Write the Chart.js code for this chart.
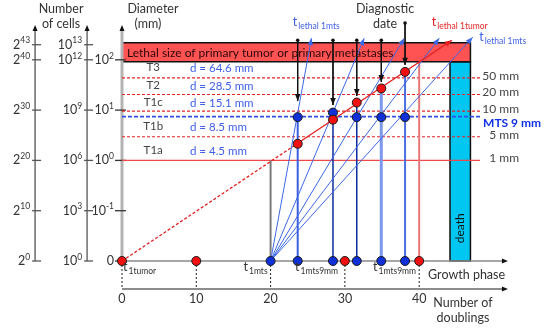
<!DOCTYPE html>
<html>
<head>
<meta charset="utf-8">
<script src="https://cdn.jsdelivr.net/npm/chart.js@4.4.1/dist/chart.umd.min.js"></script>
<style>
  html, body { margin: 0; padding: 0; background: #fff; }
</style>
</head>
<body>
<canvas id="myChart" width="548" height="328"></canvas>
<script>
// x = number of doublings, y = log2 of the cell count (1 decade of diameter = 10 doublings)
const doublingTicks = [0, 10, 20, 30, 40];
const cellTicks = [0, 10, 20, 30, 40, 43];
const pow2Exp = ['0', '10', '20', '30', '40', '43'];
const pow10Exp = ['0', '3', '6', '9', '12', '13'];
const diamTicks = [0, 10, 20, 30, 40];
const diamBase = ['0', '10', '10', '10', '10'];
const diamExp = ['', '-1', '0', '1', '2'];

const stages = ['T3', 'T2', 'T1c', 'T1b', 'T1a'];
const stageDiam = ['d = 64.6 mm', 'd = 28.5 mm', 'd = 15.1 mm', 'd = 8.5 mm', 'd = 4.5 mm'];
const stageRows = [38.6, 35.0, 31.6, 26.8, 22.1];

const sizeLabels = ['50 mm', '20 mm', '10 mm', '5 mm', '1 mm'];
const sizeLevels = [36.4, 33.1, 29.8, 24.7, 20];
const mtsLevel = 28.7;
const lethalLevels = [39.6, 43.4];
const deathRange = [44.15, 46.9];
const levelEnd = 48.2;

const tumorX = [0, 23.65, 44.4];
const tumorY = [0, 23.4, 43.9];

const diagX = [23.65, 28.4, 31.6, 34.9, 38.1];
const tumorDiagY = [23.3, 28.1, 31.5, 34.3, 37.6];
const mtsDiagY = [28.6, 29.5, 28.6, 28.6, 28.6];
const diagTopY = [43.9, 43.9, 43.9, 43.9, 47.3];
const diagTipY = [31.8, 31.0, 32.8, 35.6, 39.0];

const mtsStart = 20;
const mtsEndX = [25.5, 32.6, 38.0, 42.7, 47.2];
const mtsEndY = [44.3, 44.3, 44.3, 44.3, 44.5];

const growthRedX = [0, 10, 30, 40];
const growthBlueX = [20, 23.65, 28.4, 31.6, 34.9, 38.1];
const riseX = [23.65, 28.4, 31.6, 34.9, 38.1, 40];
const riseTopY = [28.6, 29.5, 31.5, 34.3, 37.6, 39.6];
const riseColors = ['#3b5fe0', '#0b2a9c', '#0b2a9c', '#7b98ea', '#4a6ee0', '#e87878'];
const riseWidths = [2, 1.5, 1.5, 3, 2, 2];

const doublingAxisY = -5.57;
const axisTop = 46.9;
const axisRight = 51.95;
const pow2AxisX = -11.7;
const pow10AxisX = -4.7;

const FONT = 'Lato, "Open Sans", sans-serif';

const pt = (xs, ys) => xs.map((x, i) => ({ x: x, y: Array.isArray(ys) ? ys[i] : ys }));

const datasets = [];
function addLine(data, color, width, extra) {
  datasets.push(Object.assign({
    data: data, showLine: true, borderColor: color, backgroundColor: color,
    borderWidth: width, pointRadius: 0, order: 5
  }, extra));
}
function addDots(data, fill, order) {
  datasets.push({
    data: data, showLine: false, pointRadius: 4.5, pointBackgroundColor: fill,
    pointBorderColor: '#1a1a1a', pointBorderWidth: 1, order: order
  });
}

sizeLevels.forEach((lv, i) => {
  const solid = sizeLabels[i] === '1 mm';
  addLine(pt([0, levelEnd], lv), solid ? '#f04848' : '#e42424', 1.2, { borderDash: solid ? [] : [3, 2], order: 9 });
});
addLine(pt([0, levelEnd], mtsLevel), '#3050ea', 1.6, { borderDash: [4, 2], order: 9 });

addLine(pt([mtsStart, mtsStart], [0, 20]), '#7a7a7a', 2, { order: 8 });

doublingTicks.forEach(x => addLine(pt([x, x], [0, doublingAxisY]), '#222', 1, { borderDash: [2, 2], order: 9 }));

riseX.forEach((x, i) => addLine(pt([x, x], [0, riseTopY[i]]), riseColors[i], riseWidths[i], { order: 7 }));

mtsEndX.forEach((x, i) => addLine(pt([mtsStart, x], [0, mtsEndY[i]]), '#3d68e8', 1, { arrow: true, order: 6 }));

addLine(pt(tumorX, tumorY), '#e41e1e', 1.3, {
  segment: { borderDash: c => c.p0DataIndex === 0 ? [3, 2] : undefined },
  arrow: true, order: 4
});

diagX.forEach((x, i) => addLine(pt([x, x], [diagTopY[i], diagTipY[i]]), '#111', 1,
  { arrow: true, pointRadius: [1.8, 0], pointBackgroundColor: '#111', pointBorderWidth: 0, order: 3 }));

addDots(pt(diagX, mtsDiagY), '#1030d8', 1);
addDots(pt(diagX, tumorDiagY), '#f01010', 0);
addDots(pt(growthRedX, 0), '#f01010', 0);
addDots(pt(growthBlueX, 0), '#1030d8', 0);

function arrowHead(c, x, y, ang, color, len, half) {
  c.save();
  c.translate(x, y);
  c.rotate(ang);
  c.fillStyle = color;
  c.beginPath();
  c.moveTo(0, 0);
  c.lineTo(-len, -half);
  c.lineTo(-len, half);
  c.closePath();
  c.fill();
  c.restore();
}

function powText(c, base, exp, right, y, color) {
  c.textAlign = 'left';
  c.textBaseline = 'middle';
  c.fillStyle = color;
  c.font = '12.5px ' + FONT;
  const wb = c.measureText(base).width;
  c.font = '8.5px ' + FONT;
  const we = c.measureText(exp).width;
  c.font = '12.5px ' + FONT;
  c.fillText(base, right - we - wb, y);
  c.font = '8.5px ' + FONT;
  c.fillText(exp, right - we, y - 4);
}

function subText(c, main, sub, x, y, color, alignRight) {
  c.textAlign = 'left';
  c.textBaseline = 'middle';
  c.fillStyle = color;
  c.font = '12.5px ' + FONT;
  const wm = c.measureText(main).width;
  c.font = '8.5px ' + FONT;
  const ws = c.measureText(sub).width;
  const x0 = alignRight ? x - wm - ws - 1 : x;
  c.font = '12.5px ' + FONT;
  c.fillText(main, x0, y);
  c.font = '8.5px ' + FONT;
  c.fillText(sub, x0 + wm + 1, y + 4);
}

const figure = {
  id: 'figure',
  beforeDatasetsDraw(chart) {
    const c = chart.ctx;
    const X = v => chart.scales.x.getPixelForValue(v);
    const Y = v => chart.scales.y.getPixelForValue(v);
    c.save();

    // lethal band
    const bl = X(0), br = X(deathRange[1]), bt = Y(lethalLevels[1]), bb = Y(lethalLevels[0]);
    c.fillStyle = '#ff5252';
    c.fillRect(bl, bt, br - bl, bb - bt);
    c.fillStyle = '#2a0808';
    c.font = '12px ' + FONT;
    c.textAlign = 'left';
    c.textBaseline = 'middle';
    c.fillText('Lethal size of primary tumor or primary metastases', bl + 5, (bt + bb) / 2 + 0.5);

    // death bar
    const dl = X(deathRange[0]), db = Y(0);
    c.fillStyle = '#00c6f2';
    c.fillRect(dl, bb, br - dl, db - bb);
    c.strokeStyle = '#111';
    c.lineWidth = 1.5;
    c.strokeRect(dl, bb, br - dl, db - bb);
    c.beginPath();
    c.moveTo(bl, bt); c.lineTo(br, bt); c.lineTo(br, bb); c.lineTo(bl, bb);
    c.stroke();
    c.save();
    c.translate((dl + br) / 2, Y(6.5));
    c.rotate(-Math.PI / 2);
    c.fillStyle = '#111';
    c.font = '12px ' + FONT;
    c.textAlign = 'center';
    c.fillText('death', 0, 0);
    c.restore();

    // left axes
    const a1 = X(pow2AxisX), a2 = X(pow10AxisX), a3 = X(0), top = Y(axisTop);
    c.strokeStyle = '#555';
    c.lineWidth = 1.3;
    [a1, a2].forEach(ax => {
      c.beginPath(); c.moveTo(ax, Y(0)); c.lineTo(ax, top + 4); c.stroke();
      arrowHead(c, ax, top, -Math.PI / 2, '#111', 6, 2.5);
      cellTicks.forEach(t => {
        c.beginPath(); c.moveTo(ax - 3, Y(t)); c.lineTo(ax + 6, Y(t)); c.stroke();
      });
    });
    c.strokeStyle = '#b4b4b4';
    c.lineWidth = 3;
    c.beginPath(); c.moveTo(a3, Y(0)); c.lineTo(a3, top + 4); c.stroke();
    arrowHead(c, a3, top, -Math.PI / 2, '#111', 6, 2.5);
    c.strokeStyle = '#333';
    c.lineWidth = 1.3;
    diamTicks.forEach(t => {
      c.beginPath(); c.moveTo(a3 - 7, Y(t)); c.lineTo(a3 + 4, Y(t)); c.stroke();
    });

    // bottom axes
    const ar = X(axisRight);
    c.strokeStyle = '#8a8a8a';
    c.lineWidth = 1.5;
    c.beginPath(); c.moveTo(a3, Y(0)); c.lineTo(ar - 4, Y(0)); c.stroke();
    arrowHead(c, ar, Y(0), 0, '#111', 6, 2.5);
    c.strokeStyle = '#666';
    c.beginPath(); c.moveTo(a3, Y(doublingAxisY)); c.lineTo(ar - 4, Y(doublingAxisY)); c.stroke();
    arrowHead(c, ar, Y(doublingAxisY), 0, '#111', 6, 2.5);
    c.restore();
  },
  afterDatasetsDraw(chart) {
    const c = chart.ctx;
    chart.data.datasets.forEach((ds, i) => {
      if (!ds.arrow) return;
      const pts = chart.getDatasetMeta(i).data;
      const a = pts[pts.length - 2], b = pts[pts.length - 1];
      arrowHead(c, b.x, b.y, Math.atan2(b.y - a.y, b.x - a.x), ds.borderColor, 7, 2.8);
    });
  },
  afterDraw(chart) {
    const c = chart.ctx;
    const X = v => chart.scales.x.getPixelForValue(v);
    const Y = v => chart.scales.y.getPixelForValue(v);
    const a1 = X(pow2AxisX), a2 = X(pow10AxisX), a3 = X(0);
    const grey = '#333';
    c.save();

    cellTicks.forEach((t, i) => {
      powText(c, '2', pow2Exp[i], a1 - 5, Y(t), grey);
      powText(c, '10', pow10Exp[i], a2 - 5, Y(t), grey);
    });
    diamTicks.forEach((t, i) => powText(c, diamBase[i], diamExp[i], a3 - 8, Y(t), grey));

    c.fillStyle = grey;
    c.font = '12.5px ' + FONT;
    c.textAlign = 'center';
    c.textBaseline = 'middle';
    c.fillText('Number', (a1 + a2) / 2, 9);
    c.fillText('of cells', (a1 + a2) / 2, 24);
    c.fillText('Diameter', a3 + 31, 9);
    c.fillText('(mm)', a3 + 26, 24);
    c.fillText('Diagnostic', X(35.4), 9);
    c.fillText('date', X(35.4), 24);

    // doubling tick labels and axis names
    doublingTicks.forEach(t => c.fillText(String(t), X(t), Y(doublingAxisY) + 10));
    c.textAlign = 'left';
    c.fillText('Growth phase', X(41.2), Y(0) + 14);
    c.textAlign = 'center';
    c.fillText('Number of', X(45.9), Y(doublingAxisY) + 14);
    c.fillText('doublings', X(45.9), Y(doublingAxisY) + 29);

    // stage rows
    c.font = '11.5px ' + FONT;
    stages.forEach((s, i) => {
      c.fillStyle = '#444';
      c.textAlign = 'center';
      c.fillText(s, X(4.2), Y(stageRows[i]));
      c.fillStyle = '#3f5ee6';
      c.textAlign = 'left';
      c.fillText(stageDiam[i], X(9.15), Y(stageRows[i]) + 1);
    });

    // size levels on the right
    c.font = '12px ' + FONT;
    c.fillStyle = '#444';
    c.textAlign = 'right';
    sizeLabels.forEach((s, i) => c.fillText(s, X(levelEnd) + 39, Y(sizeLevels[i]) - 2));
    c.fillStyle = '#1030e8';
    c.font = 'bold 12px ' + FONT;
    c.textAlign = 'left';
    c.fillText('MTS 9 mm', X(levelEnd) + 3, Y(mtsLevel) + 6);

    // t labels
    subText(c, 't', 'lethal 1mts', X(23.0), 22, '#3f5ee6');
    subText(c, 't', 'lethal 1tumor', X(41.7), 22, '#e42424');
    subText(c, 't', 'lethal 1mts', X(48.1), 37, '#3f5ee6');
    subText(c, 't', '1tumor', X(0) + 1, Y(0) + 6, grey);
    subText(c, 't', '1mts', X(20) - 3, Y(0) + 6, grey, true);
    subText(c, 't', '1mts9mm', X(23.3), Y(0) + 6, grey);
    subText(c, 't', '1mts9mm', X(33.8), Y(0) + 6, grey);
    c.restore();
  }
};

new Chart(document.getElementById('myChart'), {
  type: 'scatter',
  data: { datasets: datasets },
  options: {
    responsive: false,
    animation: false,
    layout: { padding: 0, autoPadding: false },
    plugins: { legend: { display: false }, tooltip: { enabled: false } },
    scales: {
      x: { type: 'linear', min: -16.42, max: 57.34, display: false },
      y: { type: 'linear', min: -13.32, max: 51.89, display: false }
    }
  },
  plugins: [figure]
});
</script>
</body>
</html>
